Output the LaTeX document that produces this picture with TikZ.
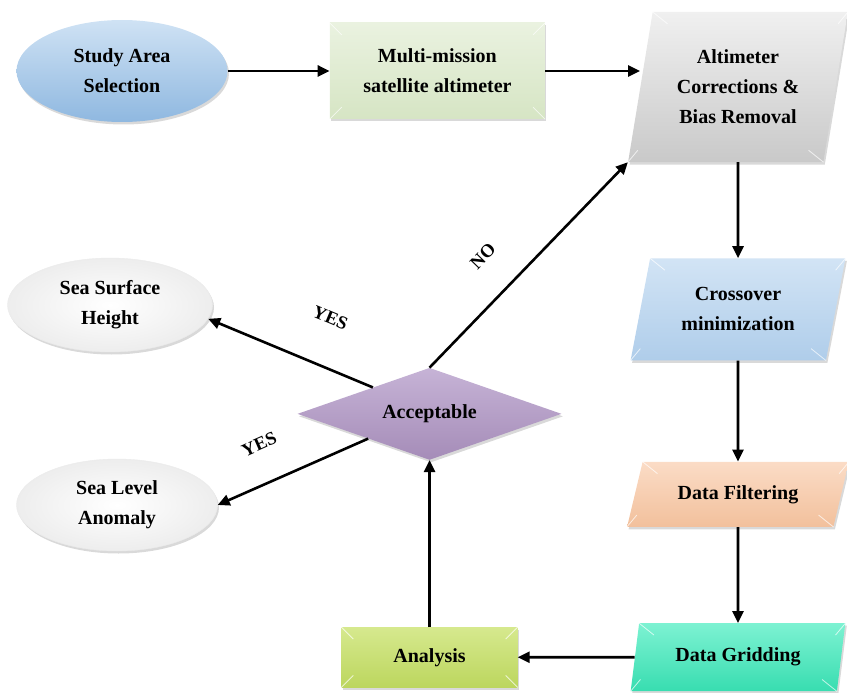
\documentclass[tikz,border=0pt]{standalone}
\usepackage{fontspec}
\setmainfont{Liberation Serif}
\usepackage{tikz}
\usetikzlibrary{arrows.meta,positioning,shapes.geometric,shadows}
\definecolor{studyblue}{HTML}{8FB8E0}
\definecolor{studylight}{HTML}{CFE2F4}
\definecolor{multigreen}{HTML}{D6E5C4}
\definecolor{multilight}{HTML}{EAF2E0}
\definecolor{altgray}{HTML}{C9C9C9}
\definecolor{altlight}{HTML}{F0F0F0}
\definecolor{crossblue}{HTML}{AFCDEA}
\definecolor{crosslight}{HTML}{D2E4F5}
\definecolor{filtpeach}{HTML}{F2C09C}
\definecolor{filtlight}{HTML}{FBDCC6}
\definecolor{gridteal}{HTML}{38DDB0}
\definecolor{gridlight}{HTML}{7DF2D2}
\definecolor{anagreen}{HTML}{BCD65E}
\definecolor{analight}{HTML}{D6E98E}
\definecolor{accpurple}{HTML}{A58CB8}
\definecolor{acclight}{HTML}{C6B3D6}
\tikzset{
    %Define standard arrow tip
    >={Triangle[length=12pt,width=11pt]},
    %Define style for boxes
    base/.style={
           font=\fontsize{20}{30}\selectfont\bfseries,
           align=center,
           inner sep=3pt,
           drop shadow={opacity=.3,shadow xshift=1.5pt,shadow yshift=-2.5pt}},
    oval/.style={
           base, ellipse,
           minimum width=206pt,
           minimum height=96pt},
    plainbox/.style={
           base, rectangle,
           minimum height=60pt},
    para/.style={
           base, trapezium,
           trapezium stretches=true,
           trapezium left angle=#1,
           trapezium right angle=\the\numexpr180-#1\relax},
    decision/.style={
           base, diamond, aspect=2.8,
           minimum width=264pt,
           minimum height=92pt,
           top color=acclight, bottom color=accpurple},
    blank/.style={
           oval, draw=black!8,
           inner color=white, outer color=black!7},
    % Define arrow style
    pil/.style={->, line width=2.6pt},
    answer/.style={font=\fontsize{18.5}{18.5}\selectfont\bfseries, sloped},
    bevel/.style={white, opacity=.7, line width=.8pt}
}
\begin{document}
\begin{tikzpicture}[x=1pt,y=-1pt]
\useasboundingbox (0,0) rectangle (847,693);
\node[oval, minimum width=211pt, minimum height=102pt, top color=studylight, bottom color=studyblue](study) at (122,71){Study Area\\Selection};
\node[plainbox, minimum width=215pt, minimum height=96pt, top color=multilight, bottom color=multigreen, right=102pt of study](multi){Multi-mission\\satellite altimeter};
\node[para=77, minimum width=220pt, minimum height=150pt, top color=altlight, bottom color=altgray](alt) at (738,87){Altimeter\\Corrections \&\\Bias Removal};
\node[para=75, minimum width=215pt, minimum height=102pt, top color=crosslight, bottom color=crossblue, below=96pt of alt](cross){Crossover\\minimization};
\node[para=67, minimum width=222pt, minimum height=65pt, top color=filtlight, bottom color=filtpeach, below=101pt of cross](filt){Data Filtering};
\node[para=77, minimum width=215pt, minimum height=68pt, top color=gridlight, bottom color=gridteal, below=96pt of filt](grid){Data Gridding};
\node[plainbox, minimum width=176pt, top color=analight, bottom color=anagreen, left=117pt of grid](ana){Analysis};
\node[decision, above=167pt of ana](acc){Acceptable};
\node[blank, minimum width=205pt, minimum height=94pt](ssh) at (110,305){Sea Surface\\Height};
\node[blank, minimum width=201pt, minimum height=92pt](sla) at (117,505){Sea Level\\Anomaly};
% bevel edges
\foreach \n in {multi,ana}{
  \draw[bevel] (\n.north west) -- ++(12,12) (\n.north east) -- ++(-12,12)
               (\n.south west) -- ++(12,-12) (\n.south east) -- ++(-12,-12);
}
\foreach \n in {alt,cross,filt,grid}{
  \draw[bevel] (\n.top left corner) -- ++(15,12) (\n.top right corner) -- ++(-10,12)
               (\n.bottom left corner) -- ++(10,-12) (\n.bottom right corner) -- ++(-15,-12);
}
\path[pil]
	(study) edge (multi)
	(multi) edge (multi -| alt.west)
	(alt) edge (cross)
	(cross) edge (filt)
	(filt) edge (grid)
	(grid) edge (ana)
	(ana) edge (acc)
	(acc.north) edge node[answer, above=28pt, pos=.41]{NO} (alt.bottom left corner)
	(ssh.-8) edge[<-] node[answer, above=37pt, pos=.63]{YES} (acc.155)
	(sla.east) edge[<-] node[answer, above=28pt, pos=.38]{YES} (acc.202);
\end{tikzpicture}
\end{document}
